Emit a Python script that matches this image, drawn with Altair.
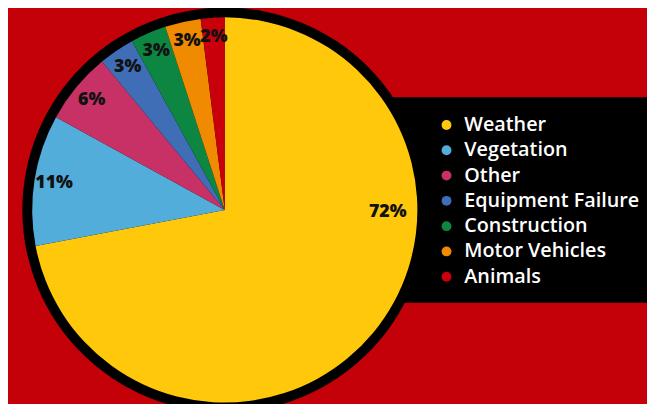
import math
import altair as alt
import pandas as pd

causes = ["Weather", "Vegetation", "Other", "Equipment Failure",
          "Construction", "Motor Vehicles", "Animals"]
shares = [72, 11, 6, 3, 3, 3, 2]
colors = ["#FFC80B", "#53ADDA", "#C83166", "#3F6EB7",
          "#0D8642", "#F08A00", "#C9000C"]

df = pd.DataFrame({"cause": causes, "share": shares,
                   "order": list(range(len(causes)))})
one = pd.DataFrame({"k": [0]})

CX, CY = 219.5, 202
R = 195

base = alt.Chart(df).transform_window(
    cum="sum(share)", sort=[alt.SortField("order")]
).transform_joinaggregate(
    total="sum(share)"
).transform_calculate(
    t0="2*PI*(datum.cum-datum.share)/datum.total",
    t1="2*PI*datum.cum/datum.total",
    tm="datum.cause==='Weather' ? 1.585 : (datum.t0+datum.t1)/2",
    rr="datum.cause==='Weather' ? 165 : 175",
    lbl="datum.share + '%'",
)

box = alt.Chart(one).mark_rect(color="black").encode(
    x=alt.value(388), x2=alt.value(647), y=alt.value(88), y2=alt.value(296)
)

ring = alt.Chart(one).mark_arc(color="black", radius=R + 10).encode(
    theta=alt.value(0), theta2=alt.value(2 * math.pi),
    x=alt.value(CX), y=alt.value(CY)
)

pie = base.mark_arc(radius=R).encode(
    theta=alt.Theta("t0:Q", scale=None),
    theta2="t1:Q",
    color=alt.Color(
        "cause:N",
        scale=alt.Scale(domain=causes, range=colors),
        legend=alt.Legend(
            orient="none", legendX=434, legendY=106, title=None,
            labelColor="white", labelFont="Open Sans", labelFontSize=20,
            labelFontWeight=600, labelLimit=300, symbolType="circle",
            symbolSize=100, symbolStrokeWidth=0, labelOffset=8,
            rowPadding=5.6, padding=0,
        ),
    ),
    x=alt.value(CX), y=alt.value(CY),
)

labels = base.mark_text(
    font="Open Sans", fontSize=18, fontWeight=800, color="#111111",
    align="center", baseline="middle"
).encode(
    theta=alt.Theta("tm:Q", scale=None),
    radius=alt.Radius("rr:Q", scale=None),
    text="lbl:N",
    x=alt.value(CX), y=alt.value(CY),
)

chart = alt.layer(box, ring, pie, labels).properties(
    width=647, height=396, padding=0,
    autosize=alt.AutoSizeParams(type="none"),
    background="#C40008",
).configure_view(stroke=None)

chart.save("out.html", embed_options={"renderer": "svg", "actions": False})
